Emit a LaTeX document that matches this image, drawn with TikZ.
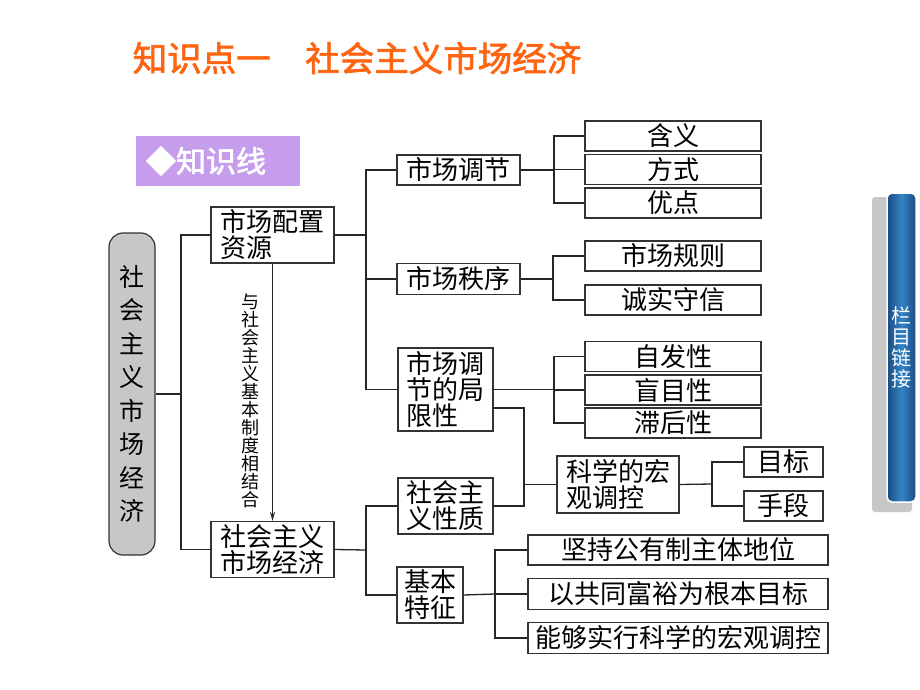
\documentclass[tikz,border=0pt]{standalone}
\usepackage{fontspec}
\usetikzlibrary{arrows.meta}
\newfontfamily\cjk{Noto Sans CJK SC}
\newfontfamily\cjkb[FakeBold=2]{Noto Sans CJK SC}
\definecolor{titleorange}{HTML}{FF6410}
\definecolor{kpurple}{HTML}{C59DEC}
\definecolor{tabdark}{HTML}{1B4A80}
\definecolor{tablight}{HTML}{3383C6}

\begin{document}
\begin{tikzpicture}[x=1pt,y=-1pt,
  box/.style={draw=black!80,line width=1.2pt,fill=white,inner sep=3pt,
    font=\cjk\fontsize{26}{26}\selectfont},
  leaf/.style={box,minimum width=176,minimum height=28},
  conn/.style={draw=black!85,line width=1.3pt}]
  \useasboundingbox[fill=white] (0,0) rectangle (920,690);

  \node[text=titleorange,font=\cjkb\fontsize{34.5}{34.5}\selectfont] (title) at (357,58) {知识点一　社会主义市场经济};
  \node[fill=kpurple,text=white,text width=144,inner xsep=10,minimum height=50,align=left,
    font=\cjkb\fontsize{30}{30}\selectfont] (zsx) at (218,161) {◆知识线};

  % root and second level
  \node[box,fill=black!22,rounded corners=14pt,minimum width=46,minimum height=322,align=center,
    font=\cjk\fontsize{25}{33.5}\selectfont] (root) at (132,394) {社\\会\\主\\义\\市\\场\\经\\济};
  \node[box,minimum width=123,minimum height=56,align=left] (zypz) at (272.5,235) {市场配置\\资源};
  \node[box,minimum width=123,minimum height=55,align=left] (scjj) at (272.5,549.5) {社会主义\\市场经济};
  \node[font=\cjk\fontsize{18}{18}\selectfont,align=center,inner sep=0pt] (xjh) at (250,401)
    {与\\社\\会\\主\\义\\基\\本\\制\\度\\相\\结\\合};

  \node[box,minimum width=123,minimum height=28] (tj) at (458.5,170) {市场调节};
  \node[box,minimum width=123,minimum height=28] (zx) at (458.5,279) {市场秩序};
  \node[box,minimum width=95,minimum height=83,align=left] (jxx) at (445.5,389.5) {市场调\\节的局\\限性};
  \node[box,minimum width=95,minimum height=56,align=left] (xz) at (445.5,506) {社会主\\义性质};
  \node[box,minimum width=66,minimum height=56,align=left] (tz) at (430,595) {基本\\特征};

  % leaves
  \node[leaf] (hy) at (673,136) {含义};
  \node[leaf] (fs) at (673,169.5) {方式};
  \node[leaf] (yd) at (673,203) {优点};
  \node[leaf] (gz) at (673,256) {市场规则};
  \node[leaf] (cs) at (673,300) {诚实守信};
  \node[leaf] (zf) at (673,356.5) {自发性};
  \node[leaf] (mm) at (673,390) {盲目性};
  \node[leaf] (zh) at (673,423) {滞后性};
  \node[box,minimum width=122,minimum height=57,align=left] (kx) at (618,484.5) {科学的宏\\观调控};
  \node[box,minimum width=79,minimum height=30] (mb) at (783.5,462) {目标};
  \node[box,minimum width=79,minimum height=28] (sd) at (783.5,506) {手段};
  \node[leaf,minimum width=300] (jc) at (678,550) {坚持公有制主体地位};
  \node[leaf,minimum width=300] (gt) at (678,594) {以共同富裕为根本目标};
  \node[leaf,minimum width=300] (nn) at (678,638) {能够实行科学的宏观调控};

  % junctions
  \coordinate (s1) at (181,389);
  \coordinate (s2) at (366,235);
  \coordinate (s3) at (554,170);
  \coordinate (s4) at (553,279);
  \coordinate (s5) at (554,389);
  \coordinate (s6) at (712,484);
  \coordinate (s7) at (366,550);
  \coordinate (s8) at (495,594);
  \coordinate (k1) at (524,408);

  \draw[conn] (root.east) -- (root.east -| s1);
  \draw[conn] (zypz.west) -| (s1) |- (scjj.west);
  \draw[conn] (zypz.east) -- (s2);
  \draw[conn] (tj.west) -| (s2) |- (jxx.west);
  \draw[conn] (zx.west) -- (zx.west -| s2);
  \draw[conn] (tj.east) -- (s3);
  \draw[conn] (hy.west) -| (s3) |- (yd.west);
  \draw[conn] (fs.west) -- (fs.west -| s3);
  \draw[conn] (zx.east) -- (s4);
  \draw[conn] (gz.west) -| (s4) |- (cs.west);
  \draw[conn] (jxx.east) -- (jxx.east -| s5);
  \draw[conn] (zf.west) -| (s5) |- (zh.west);
  \draw[conn] (mm.west) -- (mm.west -| s5);
  \draw[conn] (k1 -| jxx.east) -- (k1) |- (xz.east);
  \draw[conn] (kx.west) -- (kx.west -| k1);
  \draw[conn] (kx.east) -- (s6);
  \draw[conn] (mb.west) -| (s6) |- (sd.west);
  \draw[conn] (scjj.east) -- (s7);
  \draw[conn] (xz.west) -| (s7) |- (tz.west);
  \draw[conn] (tz.east) -- (s8);
  \draw[conn] (jc.west) -| (s8) |- (nn.west);
  \draw[conn] (gt.west) -- (gt.west -| s8);
  \draw[conn,-{Stealth[length=9pt,width=5pt]}] (zypz.south) -- (scjj.north);

  % side tab
  \fill[black!22,rounded corners=3pt] (872,197) rectangle (912,512);
  \node[draw=white,line width=1.5pt,rounded corners=5pt,left color=tabdark,right color=tabdark,
    middle color=tablight,minimum width=29,minimum height=309,text=white,align=center,inner sep=0pt,
    font=\cjk\fontsize{20}{21}\selectfont] (tab) at (901.5,347.5) {栏\\目\\链\\接};
\end{tikzpicture}
\end{document}
